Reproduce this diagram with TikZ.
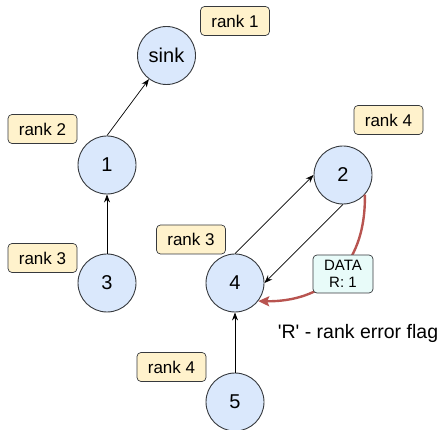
\documentclass[tikz,border=0pt]{standalone}
\usepackage{fontspec}
\setmainfont{Liberation Sans}
\usetikzlibrary{arrows.meta}
\definecolor{nodefill}{HTML}{DAE8FC}
\definecolor{rankfill}{HTML}{FFF2CC}
\definecolor{datafill}{HTML}{E8FBF9}
\definecolor{edgegray}{HTML}{36393D}
\definecolor{errred}{HTML}{B85450}
\tikzset{
  mote/.style={circle, draw=edgegray, fill=nodefill, line width=0.9pt,
    minimum size=58pt, inner sep=0pt, font=\fontsize{20}{23}\selectfont},
  ranktag/.style={draw=edgegray, fill=rankfill, rounded corners=4pt, line width=0.7pt,
    minimum width=69pt, minimum height=29pt, inner sep=0pt, font=\fontsize{17}{20}\selectfont},
  datatag/.style={draw=edgegray, fill=datafill, rounded corners=4pt, line width=0.7pt,
    minimum width=60pt, minimum height=38pt, inner sep=0pt, align=center,
    font=\fontsize{15}{17}\selectfont},
  link/.style={draw=black, line width=0.7pt, -{Stealth[length=8pt,width=6pt]}},
  errlink/.style={draw=errred, line width=2.4pt, -{Stealth[length=11pt,width=10pt,inset=2pt]}}
}
\begin{document}
\begin{tikzpicture}[x=1pt,y=-1pt]
\useasboundingbox (0,0) rectangle (442,430);

% sensor nodes
\node[mote] (sink) at (166.5,55.5) {sink};
\node[mote] (n1) at (107,165) {1};
\node[mote] (n3) at (107,283) {3};
\node[mote] (n2) at (343,175) {2};
\node[mote] (n4) at (235,283) {4};
\node[mote] (n5) at (235,402) {5};

% rank tags
\node[ranktag] (r1) at (235,21) {rank 1};
\node[ranktag] (r2) at (42.5,129) {rank 2};
\node[ranktag] (r3a) at (42.5,258) {rank 3};
\node[ranktag] (r4a) at (388.5,120) {rank 4};
\node[ranktag] (r3b) at (191,239.5) {rank 3};
\node[ranktag] (r4b) at (171.5,367) {rank 4};

% routing links
\draw[link] (n1.north) -- (sink);
\draw[link] (n3.north) -- (n1.south);
\draw[link] (n5.north) -- (n4.south);
\draw[link] (n4.north) -- (n2.west);
\draw[link] (n2.south) -- (n4.east);

% data packet sent back with the rank error flag set
\draw[errlink] (n2.-42) .. controls (366,270) and (320,302) .. (n4.-38);
\node[datatag] (data) at (343,274) {DATA\\R: 1};

\node[font=\fontsize{19.5}{22}\selectfont] (note) at (358,333)
  {\textquotesingle R\textquotesingle{} - rank error flag};
\end{tikzpicture}
\end{document}
